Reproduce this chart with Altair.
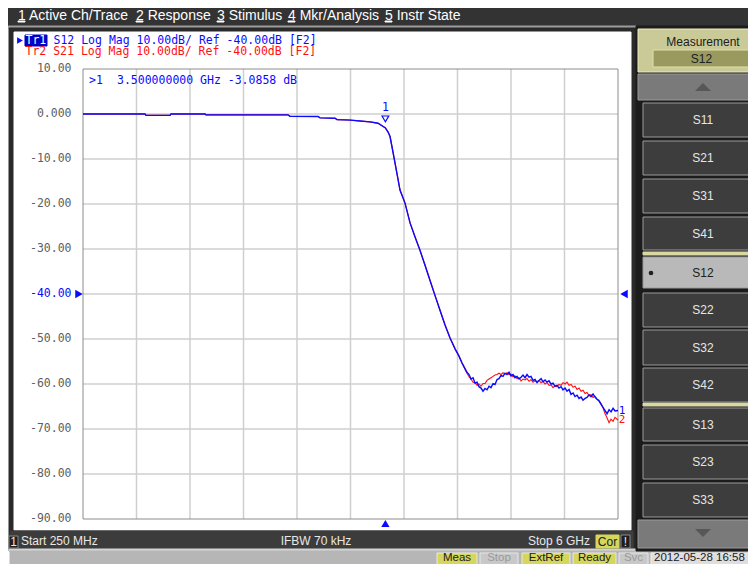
import altair as alt
import pandas as pd

OFF = 8            # page margin of the html page
W, H = 740, 556    # chart size, so that page = 756x572 exactly

# ---------------- trace data (frequency in GHz, magnitude in dB) ----------------
pass_freq = [0.250, 0.916, 0.927, 1.185, 1.196, 1.561, 1.572, 2.453, 2.475, 2.776,
             2.797, 2.959, 2.980, 3.120, 3.227, 3.335, 3.421, 3.500, 3.529, 3.550,
             3.582, 3.625, 3.657, 3.711, 3.765, 3.818, 3.872, 3.926, 3.980, 4.033,
             4.087, 4.141, 4.195, 4.249, 4.291, 4.323]
pass_db = [0.00, 0.00, -0.30, -0.30, 0.00, 0.00, -0.20, -0.20, -0.50, -0.55,
           -0.85, -0.95, -1.25, -1.35, -1.55, -1.75, -2.05, -3.09, -4.0, -5.0,
           -8.5, -13.3, -16.9, -19.8, -24.2, -27.3, -30.3, -33.6, -37.0, -40.3,
           -43.6, -46.9, -49.8, -52.2, -53.8, -55.3]

tail_freq = [4.356, 4.377, 4.399, 4.420, 4.442, 4.463, 4.485, 4.506, 4.528, 4.549,
             4.571, 4.592, 4.614, 4.635, 4.657, 4.678, 4.700, 4.721, 4.743, 4.764,
             4.786, 4.807, 4.829, 4.850, 4.872, 4.893, 4.915, 4.936, 4.958, 4.979,
             5.001, 5.022, 5.044, 5.065, 5.087, 5.108, 5.130, 5.151, 5.173, 5.194,
             5.216, 5.237, 5.259, 5.280, 5.302, 5.323, 5.345, 5.366, 5.388, 5.409,
             5.431, 5.452, 5.474, 5.495, 5.517, 5.538, 5.560, 5.581, 5.603, 5.624,
             5.646, 5.667, 5.689, 5.710, 5.732, 5.753, 5.775, 5.796, 5.818, 5.839,
             5.861, 5.882, 5.904, 5.925, 5.947, 5.968, 6.000]
s12_tail_db = [-56.6, -57.4, -57.9, -58.9, -58.6, -59.8, -59.6, -60.6, -60.9, -61.6,
               -61.0, -61.3, -60.5, -60.8, -59.9, -60.1, -59.0, -58.8, -58.1, -58.3,
               -57.6, -57.9, -57.4, -58.2, -57.9, -58.6, -58.3, -58.9, -58.5, -58.0,
               -58.6, -57.9, -58.5, -58.3, -59.2, -59.0, -59.7, -59.2, -58.8, -59.5,
               -59.1, -59.6, -59.3, -60.0, -59.8, -60.5, -60.3, -60.9, -60.6, -61.3,
               -60.9, -61.6, -61.2, -62.3, -62.0, -62.8, -62.5, -63.2, -62.9, -63.6,
               -63.2, -63.0, -62.4, -62.8, -62.2, -62.9, -63.4, -63.8, -64.5, -65.2,
               -65.9, -66.6, -65.7, -66.2, -65.4, -66.0, -65.9]
s21_tail_db = [-56.8, -57.6, -58.4, -58.9, -59.6, -59.7, -60.3, -60.0, -60.5, -59.9,
               -59.9, -59.2, -58.9, -58.6, -58.3, -58.0, -57.9, -57.6, -57.9, -57.5,
               -57.8, -57.5, -57.9, -57.8, -58.4, -58.2, -58.8, -58.6, -59.3, -58.9,
               -59.1, -58.8, -59.4, -59.0, -59.6, -59.3, -59.5, -59.2, -59.7, -59.4,
               -60.0, -59.7, -60.3, -60.2, -60.8, -60.4, -60.6, -60.1, -60.3, -59.7,
               -60.0, -59.6, -60.3, -60.1, -60.7, -60.5, -61.2, -60.9, -61.6, -61.4,
               -62.1, -61.9, -62.6, -62.4, -63.0, -62.7, -63.4, -63.6, -64.4, -65.3,
               -66.6, -67.5, -68.6, -67.8, -68.3, -67.4, -68.0]

x_grid = [0.825, 1.400, 1.975, 2.550, 3.125, 3.700, 4.275, 4.850, 5.425]
y_grid = [0, -10, -20, -30, -40, -50, -60, -70, -80]
y_ticks = [10, 0, -10, -20, -30, -40, -50, -60, -70, -80, -90]
y_tick_labels = ["10.00", "0.000", "-10.00", "-20.00", "-30.00", "-40.00",
                 "-50.00", "-60.00", "-70.00", "-80.00", "-90.00"]
f_start, f_stop = 0.25, 6.0
db_top, db_bottom = 10, -90
ref_level = -40
marker_freq, marker_db = 3.5, -3.0858

menu_items = ["1 Active Ch/Trace", "2 Response", "3 Stimulus", "4 Mkr/Analysis", "5 Instr State"]
softkeys = ["S11", "S21", "S31", "S41", "S12", "S22", "S32", "S42", "S13", "S23", "S33"]
status_items = ["Meas", "Stop", "ExtRef", "Ready", "Svc"]

BLUE = "#0a0aff"
RED = "#ff1010"
MONO = "DejaVu Sans Mono"
SANS = "Liberation Sans"

def p(v):
    return v - OFF

xs = alt.Scale(domain=[f_start, f_stop], range=[p(83), p(618)], nice=False, zero=False)
ys = alt.Scale(domain=[db_bottom, db_top], range=[p(519), p(69)], nice=False, zero=False)

# ---------------- instrument frame (decoration, page pixel coordinates) ----------------
menu_x = [18, 136, 217, 288, 385]
key_y = [(103, 137), (141, 175), (179, 213), (217, 250), (257, 288), (293, 327),
         (330, 365), (368, 402), (408, 441), (445, 479), (483, 517)]
status_box = [(437, 477, "#d6d65c"), (480, 518, "#c8c8c8"), (522, 570, "#d6d65c"),
              (573, 616, "#d6d65c"), (619, 648, "#c8c8c8")]

rects = [
    (0, 0, 756, 26, "#333333", "#333333"),
    (0, 26, 636, 28, "#9c9c9c", "#9c9c9c"),
    (9, 28, 637, 551, "#2a2a2a", "#2a2a2a"),
    (14, 32, 631, 530, "#ffffff", "#ffffff"),
    (10, 531, 633, 549, "#3c3c3c", "#3c3c3c"),
    (9, 549, 637, 551, "#d4d4d4", "#d4d4d4"),
    (10, 551, 760, 572, "#b6b6b6", "#b6b6b6"),
    (9, 536, 18, 548, "#1e1e1e", "#8a8a8a"),
    (596, 535, 619, 548, "#d6d65c", "#d6d65c"),
    (621, 535, 630, 548, "#1e1e1e", "#8a8a8a"),
    (651, 553, 760, 570, "#dedede", "#f0f0f0"),
    (636, 26, 756, 551, "#1c1c1c", "#1c1c1c"),
    (638, 29, 760, 72, "#caca98", "#ececc0"),
    (653, 50, 750, 67, "#9a9a60", "#e0e0a8"),
    (638, 74, 760, 100, "#7a7a7a", "#9a9a9a"),
    (638, 520, 760, 548, "#7a7a7a", "#9a9a9a"),
    (643, 252, 760, 255, "#d8d8a0", "#d8d8a0"),
    (643, 403, 760, 406, "#d8d8a0", "#d8d8a0"),
    (25, 35, 47, 46, "#0000c8", "#0000c8"),
]
for x1, x2, c in status_box:
    rects.append((x1, 553, x2, 570, c, "#e8e8e8"))
for k, (y1, y2) in zip(softkeys, key_y):
    fill = "#b9b9b9" if k == "S12" else "#3d3d3d"
    rects.append((643, y1, 760, y2, fill, "#9a9a9a"))
for mx in menu_x:
    rects.append((mx, 21, mx + 7, 22, "#ffffff", "#ffffff"))

rect_df = pd.DataFrame([(p(a), p(b), p(c), p(d), f, s) for a, b, c, d, f, s in rects],
                       columns=["x1", "y1", "x2", "y2", "fill", "stroke"])
frame_layer = alt.Chart(rect_df).mark_rect(strokeWidth=1).encode(
    x=alt.X("x1:Q", scale=None, axis=None), x2="x2:Q",
    y=alt.Y("y1:Q", scale=None, axis=None), y2="y2:Q",
    fill=alt.Fill("fill:N", scale=None), stroke=alt.Stroke("stroke:N", scale=None))


def text_layer(rows, align, font, size, weight="normal"):
    df = pd.DataFrame([(p(x), p(y), t, c) for x, y, t, c in rows], columns=["x", "y", "t", "c"])
    return alt.Chart(df).mark_text(align=align, baseline="middle", font=font,
                                   fontSize=size, fontWeight=weight).encode(
        x=alt.X("x:Q", scale=None, axis=None), y=alt.Y("y:Q", scale=None, axis=None),
        text="t:N", color=alt.Color("c:N", scale=None))


menu_text = text_layer([(x, 15.5, t, "#ffffff") for x, t in zip(menu_x, menu_items)],
                       "left", SANS, 14)
header_text = text_layer([
    (25.5, 40.5, "Tr1", "#ffffff"),
    (53.5, 40.5, "S12 Log Mag 10.00dB/ Ref -40.00dB [F2]", BLUE),
    (25.5, 52, "Tr2 S21 Log Mag 10.00dB/ Ref -40.00dB [F2]", RED),
    (89, 80.5, ">1", BLUE),
    (117, 80.5, "3.500000000 GHz -3.0858 dB", BLUE),
], "left", MONO, 11.5)
chan_left = text_layer([(21, 541, "Start 250 MHz", "#e8e8e8")], "left", SANS, 12)
chan_center = text_layer([(316, 541, "IFBW 70 kHz", "#e8e8e8"),
                          (13.5, 542, "1", "#e8e8e8"),
                          (607.5, 541.5, "Cor", "#202020"),
                          (625.5, 541.5, "!", "#e8e8e8")], "center", SANS, 12)
chan_right = text_layer([(590, 541, "Stop 6 GHz", "#e8e8e8")], "right", SANS, 12)
status_text = text_layer(
    [((a + b) / 2, 557.5, t, "#9a9a9a" if c == "#c8c8c8" else "#202020")
     for (a, b, c), t in zip(status_box, status_items)], "center", SANS, 11.5)
date_text = text_layer([(654, 557.5, "2012-05-28 16:58", "#202020")], "left", SANS, 11.5)
panel_text = text_layer(
    [(703, 42, "Measurement", "#202020"), (701.5, 58.5, "S12", "#202020")]
    + [(703, (a + b) / 2, k, "#202020" if k == "S12" else "#e6e6e6")
       for k, (a, b) in zip(softkeys, key_y)], "center", SANS, 12)

pt_rows = [(20, 40.5, "triangle-right", BLUE, 45), (651, 273, "circle", "#202020", 22)]
pt_df = pd.DataFrame([(p(x), p(y), s, c, z) for x, y, s, c, z in pt_rows],
                     columns=["x", "y", "shape", "c", "size"])
ui_points = alt.Chart(pt_df).mark_point(filled=True, opacity=1).encode(
    x=alt.X("x:Q", scale=None, axis=None), y=alt.Y("y:Q", scale=None, axis=None),
    shape=alt.Shape("shape:N", scale=None), color=alt.Color("c:N", scale=None),
    size=alt.Size("size:Q", scale=None))

arrow_df = pd.DataFrame({"x": [p(703), p(703)], "y": [p(87), p(533)],
                         "shape": ["M-1,0.5L1,0.5L0,-0.5Z", "M-1,-0.5L1,-0.5L0,0.5Z"]})
arrows = alt.Chart(arrow_df).mark_point(filled=True, opacity=1, color="#575757", size=256).encode(
    x=alt.X("x:Q", scale=None, axis=None), y=alt.Y("y:Q", scale=None, axis=None),
    shape=alt.Shape("shape:N", scale=None))

# ---------------- plot area ----------------
vgrid = alt.Chart(pd.DataFrame({"f": x_grid, "lo": db_bottom, "hi": db_top})).mark_rule(
    color="#cfcfcf", strokeWidth=1.5).encode(
    x=alt.X("f:Q", scale=xs, axis=None), y=alt.Y("lo:Q", scale=ys, axis=None), y2="hi:Q")
hgrid = alt.Chart(pd.DataFrame({"db": y_grid, "a": f_start, "b": f_stop})).mark_rule(
    color="#cfcfcf", strokeWidth=1.5).encode(
    y=alt.Y("db:Q", scale=ys, axis=None), x=alt.X("a:Q", scale=xs, axis=None), x2="b:Q")
border = alt.Chart(pd.DataFrame({"a": [f_start], "b": [f_stop], "lo": [db_bottom], "hi": [db_top]})
                   ).mark_rect(fillOpacity=0, stroke="#8c8c8c", strokeWidth=1).encode(
    x=alt.X("a:Q", scale=xs, axis=None), x2="b:Q",
    y=alt.Y("lo:Q", scale=ys, axis=None), y2="hi:Q")

s12_df = pd.DataFrame({"f": pass_freq + tail_freq, "db": pass_db + s12_tail_db})
s21_df = pd.DataFrame({"f": pass_freq + tail_freq, "db": pass_db + s21_tail_db})
red_line = alt.Chart(s21_df).mark_line(color=RED, strokeWidth=1.1).encode(
    x=alt.X("f:Q", scale=xs, axis=None), y=alt.Y("db:Q", scale=ys, axis=None))
blue_line = alt.Chart(s12_df).mark_line(color=BLUE, strokeWidth=1.4).encode(
    x=alt.X("f:Q", scale=xs, axis=None), y=alt.Y("db:Q", scale=ys, axis=None))

tick_df = pd.DataFrame({"db": y_ticks, "t": y_tick_labels,
                        "c": [BLUE if v == ref_level else "#606060" for v in y_ticks]})
tick_text = alt.Chart(tick_df).mark_text(align="right", baseline="middle", font=MONO,
                                         fontSize=11.5).encode(
    x=alt.value(p(71.5)), y=alt.Y("db:Q", scale=ys, axis=None), text="t:N",
    color=alt.Color("c:N", scale=None))

ref_df = pd.DataFrame({"db": [ref_level]})
ref_left = alt.Chart(ref_df).mark_point(shape="triangle-right", filled=True, opacity=1,
                                        color=BLUE, size=75).encode(
    x=alt.value(p(79)), y=alt.Y("db:Q", scale=ys, axis=None))
ref_right = alt.Chart(ref_df).mark_point(shape="triangle-left", filled=True, opacity=1,
                                         color=BLUE, size=75).encode(
    x=alt.value(p(624)), y=alt.Y("db:Q", scale=ys, axis=None))

mk_df = pd.DataFrame({"f": [marker_freq], "db": [marker_db], "t": ["1"]})
mk_tri = alt.Chart(mk_df).mark_point(shape="triangle-down", filled=False, color=BLUE,
                                     size=45, strokeWidth=1.2, yOffset=-9, opacity=1).encode(
    x=alt.X("f:Q", scale=xs, axis=None), y=alt.Y("db:Q", scale=ys, axis=None))
mk_num = alt.Chart(mk_df).mark_text(font=MONO, fontSize=11.5, color=BLUE, yOffset=-20,
                                    baseline="middle").encode(
    x=alt.X("f:Q", scale=xs, axis=None), y=alt.Y("db:Q", scale=ys, axis=None), text="t:N")
mk_bottom = alt.Chart(mk_df).mark_point(shape="triangle-up", filled=True, opacity=1,
                                        color=BLUE, size=70).encode(
    x=alt.X("f:Q", scale=xs, axis=None), y=alt.value(p(523.5)))

end_df = pd.DataFrame({"f": [f_stop, f_stop], "db": [s12_tail_db[-1], s21_tail_db[-1]],
                       "t": ["1", "2"], "c": [BLUE, RED]})
end_labels = alt.Chart(end_df).mark_text(font=MONO, fontSize=11, dx=4, align="center",
                                         baseline="middle").encode(
    x=alt.X("f:Q", scale=xs, axis=None), y=alt.Y("db:Q", scale=ys, axis=None),
    text="t:N", color=alt.Color("c:N", scale=None))

chart = alt.layer(
    frame_layer, vgrid, hgrid, border, red_line, blue_line,
    tick_text, ref_left, ref_right, mk_tri, mk_num, mk_bottom, end_labels,
    menu_text, header_text, chan_left, chan_center, chan_right, status_text, date_text,
    panel_text, ui_points, arrows,
).properties(
    width=W, height=H, autosize=alt.AutoSizeParams(type="none"), padding=0,
    background="white",
).configure_view(strokeOpacity=0)

chart.save("out.html", embed_options={"renderer": "svg", "actions": False})
